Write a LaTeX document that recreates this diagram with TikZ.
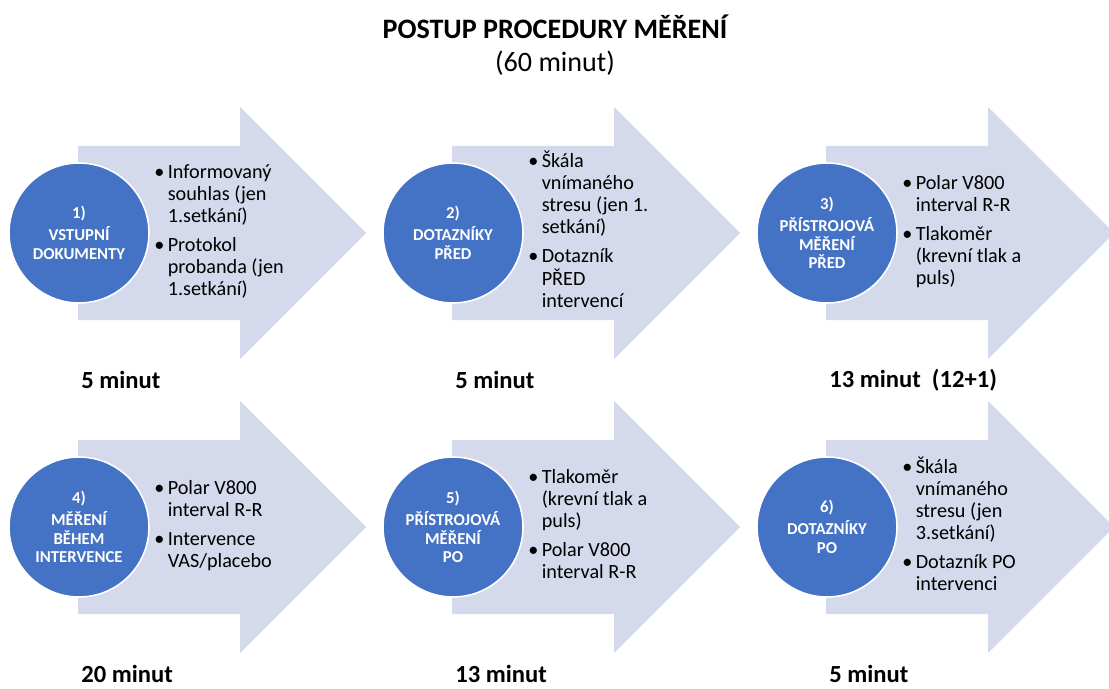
\documentclass[tikz,border=0pt]{standalone}
\usepackage{fontspec}
\setmainfont{Carlito}
\usepackage{tikz}

\definecolor{stepblue}{RGB}{68,114,196}
\definecolor{arrowfill}{RGB}{212,217,235}

% one bullet with its wrapped lines
\newcommand{\stepitem}[1]{\textbullet\,\begin{tabular}[t]{@{}l@{}}#1\end{tabular}}

\begin{document}
\begin{tikzpicture}[x=0.02cm,y=-0.02cm,
	arrowbody/.style={fill=arrowfill},
	stepcircle/.style={circle,fill=stepblue,draw=white,line width=0.9pt,minimum size=2.8cm,inner sep=0pt,
		text=white,align=center,font=\fontsize{9.5}{10.5}\selectfont\bfseries},
	items/.style={anchor=west,inner sep=0pt,align=left,font=\fontsize{11.5}{12.5}\selectfont},
	duration/.style={anchor=west,inner sep=0pt,font=\fontsize{14}{16}\selectfont\bfseries}]
	\useasboundingbox (0,0) rectangle (1109,689);
	\node[font=\fontsize{16}{18}\selectfont\bfseries] (title) at (555,27) {POSTUP PROCEDURY MĚŘENÍ};
	\node[font=\fontsize{16}{18}\selectfont] (total) at (555,63) {(60 minut)};
	\foreach \row/\col/\num/\name/\items/\time in {
		0/0/1/{VSTUPNÍ\\DOKUMENTY}/{\stepitem{Informovaný\\souhlas (jen\\1.setkání)}\\[3pt]\stepitem{Protokol\\probanda (jen\\1.setkání)}}/{5 minut},
		0/1/2/{DOTAZNÍKY\\PŘED}/{\stepitem{Škála\\vnímaného\\stresu (jen 1.\\setkání)}\\[3pt]\stepitem{Dotazník\\PŘED\\intervencí}}/{5 minut},
		0/2/3/{PŘÍSTROJOVÁ\\MĚŘENÍ\\PŘED}/{\stepitem{Polar V800\\interval R-R}\\[3pt]\stepitem{Tlakoměr\\(krevní tlak a\\puls)}}/{13 minut~ (12+1)},
		1/0/4/{MĚŘENÍ\\BĚHEM\\INTERVENCE}/{\stepitem{Polar V800\\interval R-R}\\[3pt]\stepitem{Intervence\\VAS/placebo}}/{20 minut},
		1/1/5/{PŘÍSTROJOVÁ\\MĚŘENÍ\\PO}/{\stepitem{Tlakoměr\\(krevní tlak a\\puls)}\\[3pt]\stepitem{Polar V800\\interval R-R}}/{13 minut},
		1/2/6/{DOTAZNÍKY\\PO}/{\stepitem{Škála\\vnímaného\\stresu (jen\\3.setkání)}\\[3pt]\stepitem{Dotazník PO\\intervenci}}/{5 minut}} {
		\begin{scope}[shift={(\col*374,\row*294)}]
			\fill[arrowbody] (78,146) -- (240,146) -- (240,107) -- (366,233)
				-- (240,359) -- (240,320) -- (78,320) -- cycle;
			\node[stepcircle] (c\num) at (79,233) {\num)\\[2pt]\name};
			\node[items] (t\num) at (154,233) {\items};
			\node[duration] (d\num) at (81,380) {\time};
		\end{scope}
	}
\end{tikzpicture}
\end{document}
